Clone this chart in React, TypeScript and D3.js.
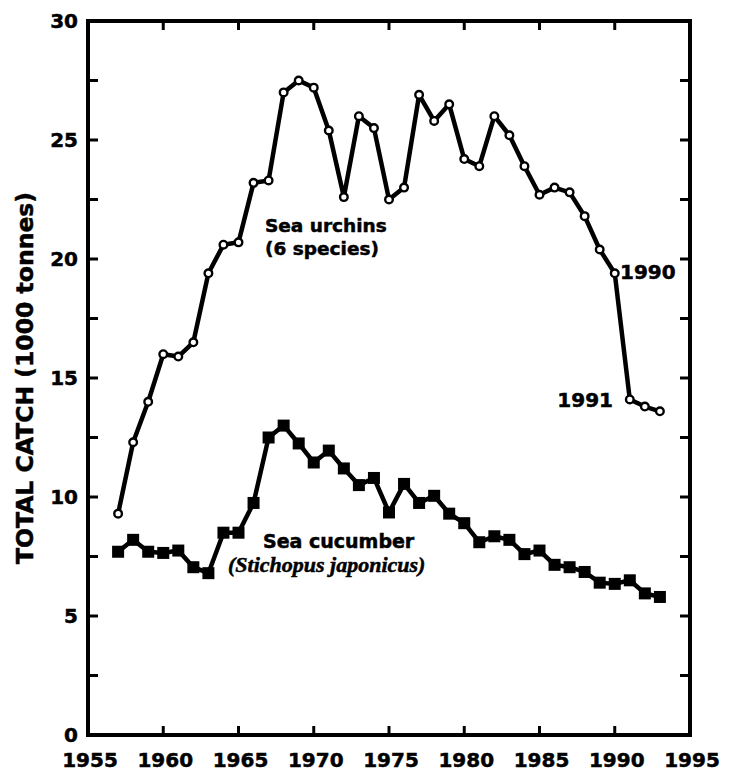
import React from "react";
import * as d3 from "d3";

const years: number[] = d3.range(1957, 1994);
const urchins: number[] = [9.3, 12.3, 14.0, 16.0, 15.9, 16.5, 19.4, 20.6, 20.7, 23.2, 23.3, 27.0, 27.5, 27.2, 25.4, 22.6, 26.0, 25.5, 22.5, 23.0, 26.9, 25.8, 26.5, 24.2, 23.9, 26.0, 25.2, 23.9, 22.7, 23.0, 22.8, 21.8, 20.4, 19.4, 14.1, 13.8, 13.6];
const cucumber: number[] = [7.7, 8.2, 7.7, 7.65, 7.75, 7.05, 6.8, 8.5, 8.5, 9.75, 12.5, 13.0, 12.25, 11.45, 11.95, 11.2, 10.5, 10.8, 9.35, 10.55, 9.75, 10.05, 9.3, 8.9, 8.1, 8.35, 8.2, 7.6, 7.75, 7.15, 7.05, 6.85, 6.4, 6.35, 6.5, 5.95, 5.8];
const xTickLabels: number[] = [1955, 1960, 1965, 1970, 1975, 1980, 1985, 1990, 1995];
const xInnerTicks: number[] = [1960, 1965, 1970, 1975, 1980, 1985, 1990];
const yTickLabels: number[] = [0, 5, 10, 15, 20, 25, 30];
const yMinorTicks: number[] = [2.5, 5, 7.5, 10, 12.5, 15, 17.5, 20, 22.5, 25, 27.5];

const FONT = "'DejaVu Sans', sans-serif";

export default function App() {
  const W = 734, H = 774;
  const x = d3.scaleLinear().domain([1955, 1995]).range([88, 690]);
  const y = d3.scaleLinear().domain([0, 30]).range([735, 21]);
  const line = d3.line<[number, number]>().x(d => x(d[0])).y(d => y(d[1]));
  const uData: [number, number][] = years.map((yr, i) => [yr, urchins[i]]);
  const cData: [number, number][] = years.map((yr, i) => [yr, cucumber[i]]);
  const sq = 12;
  const heavy = { stroke: "#000", strokeWidth: 0.5 } as const;
  return (
    <svg width={W} height={H} style={{ position: "absolute", left: 0, top: 0, background: "#fff" }} fontFamily={FONT}>
      <rect x={0} y={0} width={W} height={H} fill="#fff" />
      {yMinorTicks.map(v => (
        <g key={"yt" + v}>
          <line x1={x(1955)} x2={x(1955) + 10} y1={y(v)} y2={y(v)} stroke="#000" strokeWidth={3} />
          <line x1={x(1995)} x2={x(1995) - 10} y1={y(v)} y2={y(v)} stroke="#000" strokeWidth={3} />
        </g>
      ))}
      {xInnerTicks.map(v => (
        <g key={"xt" + v}>
          <line x1={x(v)} x2={x(v)} y1={y(0)} y2={y(0) - 9} stroke="#000" strokeWidth={3} />
          <line x1={x(v)} x2={x(v)} y1={y(30)} y2={y(30) + 9} stroke="#000" strokeWidth={3} />
        </g>
      ))}
      <rect x={x(1955)} y={y(30)} width={x(1995) - x(1955)} height={y(0) - y(30)} fill="none" stroke="#000" strokeWidth={4} />
      {yTickLabels.map(v => (
        <text key={"yl" + v} x={78} y={y(v)} dy="0.36em" textAnchor="end" fontSize={20} fontWeight="bold" {...heavy}>{v}</text>
      ))}
      {xTickLabels.map(v => (
        <text key={"xl" + v} x={x(v) + 2} y={767} textAnchor="middle" fontSize={20} fontWeight="bold" {...heavy}>{v}</text>
      ))}
      <text transform={`translate(33,${(y(0) + y(30)) / 2}) rotate(-90)`} textAnchor="middle" fontSize={23.5} fontWeight="bold" {...heavy}>TOTAL CATCH (1000 tonnes)</text>
      <path d={line(cData) || ""} fill="none" stroke="#000" strokeWidth={4.5} strokeLinejoin="round" />
      {cData.map(d => (
        <rect key={"c" + d[0]} x={x(d[0]) - sq / 2} y={y(d[1]) - sq / 2} width={sq} height={sq} fill="#000" />
      ))}
      <path d={line(uData) || ""} fill="none" stroke="#000" strokeWidth={4.5} strokeLinejoin="round" />
      {uData.map(d => (
        <circle key={"u" + d[0]} cx={x(d[0])} cy={y(d[1])} r={3.8} fill="#fff" stroke="#000" strokeWidth={2.4} />
      ))}
      <text x={265} y={232} fontSize={18.5} fontWeight="bold" {...heavy}>Sea urchins</text>
      <text x={265} y={255} fontSize={18.5} fontWeight="bold" {...heavy}>(6 species)</text>
      <text x={263} y={548} fontSize={19} fontWeight="bold" {...heavy}>Sea cucumber</text>
      <text x={228} y={572} fontSize={22} fontWeight="bold" fontStyle="italic" fontFamily="'Liberation Serif', serif" {...heavy}>(Stichopus japonicus)</text>
      <text x={620} y={279} fontSize={20} fontWeight="bold" {...heavy}>1990</text>
      <text x={613} y={407} fontSize={20} fontWeight="bold" textAnchor="end" {...heavy}>1991</text>
    </svg>
  );
}
